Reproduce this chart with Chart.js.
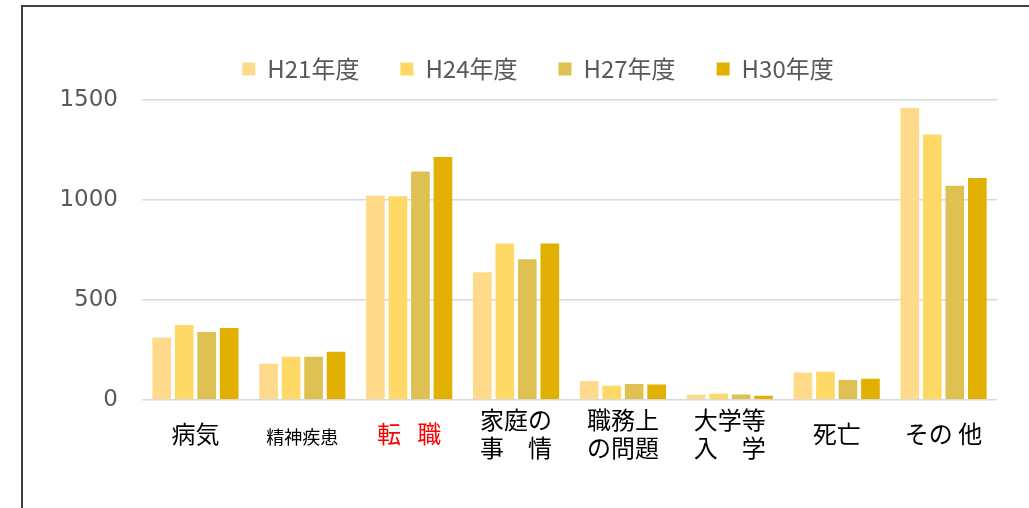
<html>
    <head>
    <meta charset="utf-8" />
    <title>理由別</title>

    <style>
        body {
            margin: 0;
            background: #ffffff;
        }

        .frame {
            position: absolute;
            left: 21px;
            top: 5px;
            width: 1100px;
            height: 600px;
            border-top: 2px solid #404040;
            border-left: 2px solid #404040;
        }

        .container {
            position: absolute;
            left: 0;
            top: 0;
            width: 1029px;
            height: 508px;
        }
    </style>

    <script src="https://cdn.jsdelivr.net/npm/chart.js@4.4.1/dist/chart.umd.min.js"></script>
    </head>

    <body>
        <div class="frame"></div>
        <div class="container">
            <canvas id="myChart"></canvas>
        </div>

        <script>
            // categories (multi-line ones as arrays)
            let aReasons = [
                '病気',
                '精神疾患',
                '転   職',
                ['家庭の', '事\u3000情'],
                ['職務上', 'の問題'],
                ['大学等', '入\u3000学'],
                '死亡',
                'その 他'
            ];

            let aH21 = [310, 180, 1021, 638, 94, 25, 137, 1460];
            let aH24 = [374, 215, 1019, 782, 71, 30, 141, 1328];
            let aH27 = [340, 215, 1142, 703, 79, 27, 99, 1071];
            let aH30 = [360, 240, 1215, 782, 77, 21, 106, 1110];

            let aYTicks = [0, 500, 1000, 1500];

            let sFont = '"Noto Sans CJK JP", "Noto Sans", sans-serif';

            // more room under the legend, and nudge it a little to the right
            let legendTweak = {
                id: 'legendTweak',
                beforeInit: function (chart) {
                    let fitValue = chart.legend.fit;
                    chart.legend.fit = function fit() {
                        fitValue.bind(chart.legend)();
                        this.height += 9;
                    };
                },
                afterLayout: function (chart) {
                    chart.legend.left += 20;
                }
            };

            var ctx = document.getElementById('myChart').getContext('2d');
            var myChart = new Chart(ctx, {
                type: 'bar',
                data: {
                    labels: aReasons,
                    datasets: [{
                        label: 'H21年度',
                        data: aH21,
                        backgroundColor: "#FFDA8A"
                    }, {
                        label: 'H24年度',
                        data: aH24,
                        backgroundColor: "#FFD966"
                    }, {
                        label: 'H27年度',
                        data: aH27,
                        backgroundColor: "#DFC153"
                    }, {
                        label: 'H30年度',
                        data: aH30,
                        backgroundColor: "#E2B000"
                    }]
                },
                options: {
                    responsive: true,
                    maintainAspectRatio: false,
                    animation: false,
                    categoryPercentage: 0.842,
                    barPercentage: 0.83,
                    layout: {
                        padding: { top: 16, left: 59, right: 32, bottom: 20 }
                    },
                    plugins: {
                        tooltip: { enabled: false },
                        legend: {
                            position: 'top',
                            labels: {
                                boxWidth: 13,
                                boxHeight: 13,
                                padding: 41,
                                color: '#595959',
                                font: { family: sFont, size: 24 }
                            }
                        }
                    },
                    scales: {
                        x: {
                            grid: { display: false },
                            border: { display: false },
                            ticks: {
                                padding: 12,
                                autoSkip: false,
                                maxRotation: 0,
                                crossAlign: 'center',
                                color: function (c) {
                                    return c.index == 2 ? '#FF0000' : '#000000';
                                },
                                font: function (c) {
                                    return {
                                        family: sFont,
                                        size: c.index == 1 ? 18 : 24,
                                        lineHeight: 1.17
                                    };
                                }
                            }
                        },
                        y: {
                            min: 0,
                            max: 1500,
                            afterBuildTicks: function (axis) {
                                axis.ticks = aYTicks.map(function (v) { return { value: v }; });
                            },
                            afterFit: function (axis) {
                                axis.width = 83;
                            },
                            grid: {
                                color: '#D9D9D9',
                                lineWidth: 1.5,
                                drawTicks: false
                            },
                            border: { display: false },
                            ticks: {
                                padding: 24,
                                color: '#595959',
                                font: { family: '"DejaVu Sans", sans-serif', size: 23 },
                                callback: function (v) { return String(v); }
                            }
                        }
                    }
                },
                plugins: [legendTweak]
            });
        </script>
     </body>
</html>
